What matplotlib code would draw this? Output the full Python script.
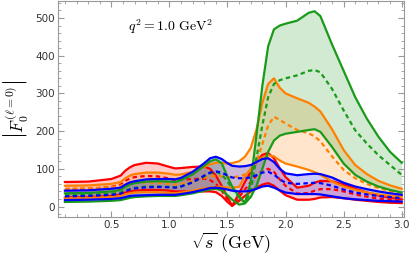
import matplotlib.pyplot as plt
import numpy as np

plt.rcParams['mathtext.fontset'] = 'cm'

# sqrt(s) grid in GeV
sqrt_s = [0.1, 0.3, 0.5, 0.58, 0.62, 0.66, 0.7, 0.8, 0.9, 1.0, 1.05, 1.1, 1.2, 1.3,
          1.35, 1.4, 1.45, 1.5, 1.54, 1.6, 1.65, 1.7, 1.75, 1.8, 1.85, 1.9, 1.95, 2.0,
          2.1, 2.2, 2.25, 2.3, 2.4, 2.5, 2.6, 2.7, 2.8, 2.9, 3.0]

red_hi = [65, 66, 73, 82, 95, 104, 110, 116, 114, 105, 101, 102, 105, 106,
          100, 82, 55, 25, 2, 35, 65, 92, 118, 137, 142, 128, 102, 78,
          50, 55, 63, 68, 67, 58, 47, 37, 29, 23, 19]
red_mid = [46, 47, 52, 58, 68, 74, 78, 81, 80, 74, 70, 71, 73, 74,
           70, 60, 42, 18, 2, 25, 45, 65, 82, 95, 100, 92, 72, 55,
           34, 36, 42, 46, 46, 40, 32, 26, 21, 17, 14]
red_lo = [24, 25, 28, 32, 37, 40, 42, 44, 44, 42, 40, 40, 40, 40,
          40, 38, 28, 12, 2, 15, 28, 40, 50, 58, 62, 55, 42, 30,
          18, 18, 20, 24, 25, 22, 18, 15, 12, 10, 9]

orange_hi = [55, 56, 60, 65, 75, 82, 86, 90, 90, 87, 84, 85, 92, 105,
             112, 116, 116, 114, 115, 120, 132, 155, 205, 275, 325, 340, 315, 300,
             287, 275, 265, 252, 205, 150, 110, 86, 68, 56, 47]
orange_mid = [47, 48, 51, 55, 60, 63, 64, 64, 63, 60, 58, 60, 67, 76,
              80, 81, 80, 78, 77, 80, 85, 95, 120, 165, 215, 238, 230, 220,
              203, 194, 186, 173, 133, 97, 75, 60, 49, 41, 35]
orange_lo = [22, 23, 25, 28, 32, 35, 37, 38, 38, 36, 35, 37, 42, 48,
             50, 52, 52, 50, 50, 52, 80, 100, 120, 130, 136, 133, 122, 114,
             106, 97, 91, 84, 66, 53, 44, 37, 32, 28, 26]

green_hi = [35, 36, 40, 44, 52, 58, 62, 66, 67, 66, 65, 70, 85, 108,
            120, 125, 115, 79, 53, 26, 10, 65, 190, 320, 425, 470, 480, 485,
            493, 514, 518, 505, 430, 360, 290, 233, 185, 145, 116]
green_mid = [30, 31, 34, 37, 43, 47, 50, 53, 53, 52, 51, 54, 64, 80,
             88, 92, 85, 66, 48, 24, 10, 40, 130, 215, 290, 325, 335, 340,
             348, 360, 362, 356, 312, 255, 202, 167, 136, 110, 84]
green_lo = [12, 13, 15, 17, 20, 23, 25, 27, 28, 28, 28, 30, 35, 42,
            45, 47, 43, 30, 18, 5, 8, 25, 55, 100, 145, 175, 188, 193,
            198, 203, 205, 198, 158, 114, 84, 66, 53, 44, 37]

blue_hi = [42, 43, 47, 50, 58, 64, 67, 72, 73, 73, 72, 76, 92, 115,
           128, 132, 126, 115, 108, 106, 107, 110, 118, 126, 128, 118, 100, 88,
           83, 86, 87, 86, 77, 63, 53, 46, 40, 35, 31]
blue_mid = [27, 28, 31, 34, 40, 45, 48, 51, 52, 51, 50, 53, 64, 82,
            90, 93, 90, 82, 77, 75, 75, 77, 83, 90, 92, 85, 72, 63,
            60, 62, 63, 62, 55, 45, 37, 32, 28, 25, 22]
blue_lo = [17, 18, 20, 22, 25, 28, 29, 30, 31, 31, 31, 33, 38, 45,
           49, 50, 48, 45, 42, 40, 40, 42, 47, 53, 55, 50, 43, 37,
           33, 33, 33, 32, 27, 22, 19, 17, 15, 14, 13]

bands = [
    ('#ff0000', red_hi, red_mid, red_lo),
    ('#ff8000', orange_hi, orange_mid, orange_lo),
    ('#1a9a1a', green_hi, green_mid, green_lo),
    ('#0000ff', blue_hi, blue_mid, blue_lo),
]

fig = plt.figure(figsize=(4.11, 2.66), dpi=100)
ax = fig.add_axes([0.141, 0.184, 0.842, 0.812])

for color, hi, mid, lo in bands:
    ax.fill_between(sqrt_s, lo, hi, color=color, alpha=0.2, lw=0)
    ax.plot(sqrt_s, hi, color=color, lw=1.6)
    ax.plot(sqrt_s, lo, color=color, lw=1.6)
    ax.plot(sqrt_s, mid, color=color, lw=1.6, ls=(0, (2, 1.5)))

ax.set_xlim(0.04, 3.02)
ax.set_ylim(-28, 545)
ax.set_xticks(np.arange(0.5, 3.01, 0.5))
ax.set_xticks(np.arange(0.1, 3.01, 0.1), minor=True)
ax.set_yticks(np.arange(0, 501, 100))
ax.set_yticks(np.arange(-20, 541, 20), minor=True)
ax.tick_params(which='both', direction='in', color='#999999', top=True, right=True,
               labelsize=7.5, labelcolor='#333333', pad=2)
ax.tick_params(which='major', length=4)
ax.tick_params(which='minor', length=2)
for sp in ax.spines.values():
    sp.set_color('#999999')

ax.set_xlabel(r'$\sqrt{s}\ (\mathrm{GeV})$', fontsize=13, labelpad=0)
ax.set_ylabel(r'$\left|F_0^{(\ell=0)}\right|$', fontsize=12, labelpad=4)
ax.text(0.64, 478, r'$q^2 = 1.0\ \mathrm{GeV}^2$', fontsize=10, va='center')

fig.savefig('out.png', dpi=100)
